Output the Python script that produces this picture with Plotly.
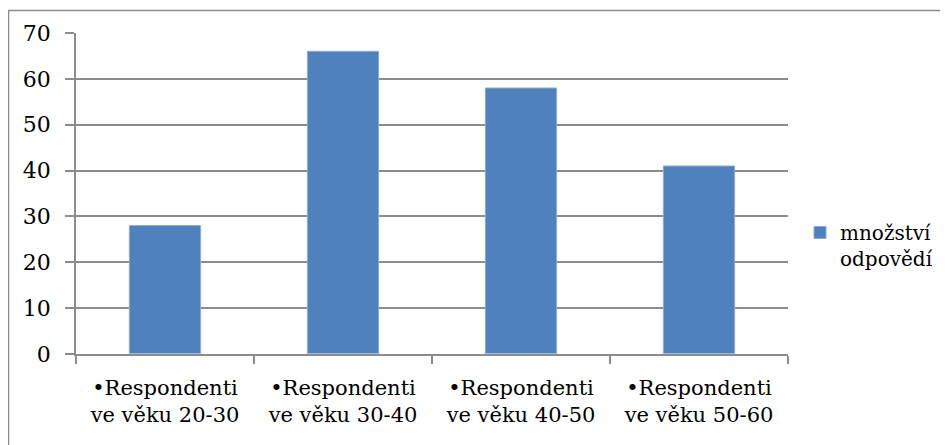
import plotly.graph_objects as go

categories = ["•Respondenti<br>ve věku 20-30", "•Respondenti<br>ve věku 30-40",
              "•Respondenti<br>ve věku 40-50", "•Respondenti<br>ve věku 50-60"]
values = [28, 66, 58, 41]
series_name = "množství<br>odpovědí"
y_ticks = [0, 10, 20, 30, 40, 50, 60, 70]

FONT = "DejaVu Serif"
GRAY = "#8c8c8c"

# page body has an 8px margin: figure coordinates = screen coordinates - 8
OFF = 8
W, H = 948 - OFF, 445 - OFF
L, R, T, B = 76 - OFF, 948 - 788, 33 - OFF, 445 - 354
pw, ph = W - L - R, H - T - B
def px(x): return (x - OFF - L) / pw
def py(y): return (H - B - (y - OFF)) / ph

fig = go.Figure()
fig.add_trace(go.Bar(
    x=categories, y=values, name=series_name,
    marker=dict(color="#4F81BD", line=dict(color="#8AAAD6", width=1)),
    showlegend=True,
))

# chart-area border
fig.add_shape(type="rect", xref="paper", yref="paper",
              x0=px(8.5), x1=px(1000), y0=py(10.5), y1=py(500),
              line=dict(color=GRAY, width=1.5), fillcolor="rgba(0,0,0,0)", layer="below")

fig.update_layout(
    width=W, height=H,
    margin=dict(l=L, r=R, t=T, b=B, autoexpand=False),
    paper_bgcolor="white", plot_bgcolor="white",
    bargap=0.6,
    font=dict(family=FONT, size=21, color="black"),
    showlegend=True,
    legend=dict(x=px(800), xanchor="left", y=py(213), yanchor="top",
                valign="top", font=dict(family=FONT, size=20),
                bgcolor="rgba(0,0,0,0)"),
    xaxis=dict(showline=True, linecolor=GRAY, linewidth=1.5,
               ticks="outside", ticklen=8, tickcolor=GRAY, tickwidth=1.5,
               tickmode="array", tickvals=[-0.5, 0.5, 1.5, 2.5, 3.5], ticktext=[""] * 5,
               showgrid=False, range=[-0.5, 3.5], automargin=False),
    yaxis=dict(range=[0, 70], tickvals=y_ticks, showgrid=True, gridcolor=GRAY, gridwidth=1.5,
               showline=True, linecolor=GRAY, linewidth=1.5,
               ticks="outside", ticklen=9, tickcolor=GRAY, tickwidth=1.5,
               ticklabelstandoff=10, zeroline=False, automargin=False,
               tickfont=dict(family=FONT, size=22)),
)

# category labels as a secondary categorical axis
fig.add_trace(go.Bar(x=categories, y=[0] * len(categories), xaxis="x2", showlegend=False,
                     hoverinfo="skip", marker=dict(color="rgba(0,0,0,0)")))
fig.update_layout(xaxis2=dict(overlaying="x", side="bottom", anchor="y", showgrid=False,
                              ticks="", showline=False, automargin=False,
                              tickfont=dict(family=FONT, size=21), ticklabelstandoff=19))

fig.write_html("out.html")
